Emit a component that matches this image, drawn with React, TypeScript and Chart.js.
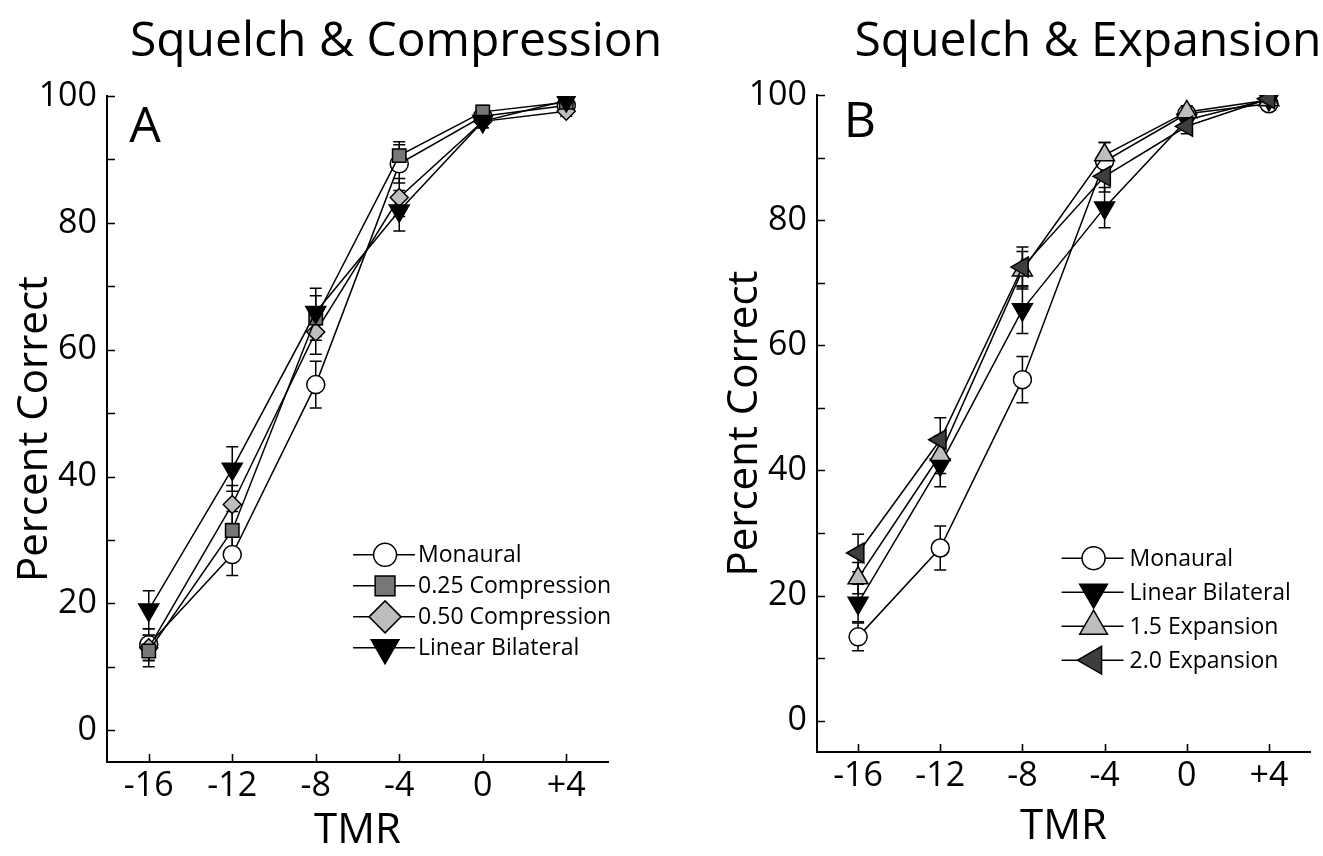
import React, { useEffect, useRef } from 'react';
import { Chart, registerables } from 'chart.js';
import { drawPoint } from 'chart.js/helpers';

Chart.register(...registerables);

// ---------- data ----------
const TMR = [-16, -12, -8, -4, 0, 4];
const TMR_LABELS = ['-16', '-12', '-8', '-4', '0', '+4'];
const Y_TICKS = [0, 10, 20, 30, 40, 50, 60, 70, 80, 90, 100];
const Y_TICK_LABELS = ['0', '', '20', '', '40', '', '60', '', '80', '', '100'];

// Panel A: Squelch & Compression
const A_MONAURAL = [13.5, 27.7, 54.5, 89.3, 96.8, 98.5];
const A_MONAURAL_ERR = [2.5, 3.3, 3.7, 3.0, 1.0, 0.5];
const A_COMP025 = [12.5, 31.5, 65.0, 90.6, 97.5, 99.0];
const A_COMP025_ERR = [2.5, 3.0, 3.5, 2.2, 1.0, 0.5];
const A_COMP050 = [13.0, 35.6, 62.8, 84.0, 96.0, 97.6];
const A_COMP050_ERR = [2.0, 3.0, 3.5, 3.0, 1.0, 0.8];
const A_LINEAR = [19.0, 41.2, 65.9, 81.9, 96.0, 99.3];
const A_LINEAR_ERR = [3.0, 3.5, 3.8, 3.2, 1.0, 0.5];

// Panel B: Squelch & Expansion
const B_MONAURAL = [13.4, 27.6, 54.5, 89.4, 97.0, 98.6];
const B_MONAURAL_ERR = [2.2, 3.5, 3.7, 3.0, 1.0, 0.5];
const B_LINEAR = [18.8, 40.9, 65.7, 82.0, 96.0, 99.3];
const B_LINEAR_ERR = [3.0, 3.5, 3.8, 3.2, 1.0, 0.5];
const B_EXP15 = [22.8, 42.5, 72.0, 90.4, 97.3, 99.2];
const B_EXP15_ERR = [2.5, 3.0, 3.0, 2.0, 1.0, 0.5];
const B_EXP20 = [26.8, 44.9, 72.5, 87.0, 95.0, 99.4];
const B_EXP20_ERR = [3.0, 3.5, 3.2, 2.5, 1.2, 0.5];

const FONT = '"Open Sans", "Noto Sans", sans-serif';

type Series = {
  label: string;
  values: number[];
  errors: number[];
  style: string;
  rotation: number;
  fill: string;
  radius: number;
  legendRadius: number;
  layer: number;
};

const MONAURAL_STYLE = { style: 'circle', rotation: 0, fill: '#ffffff', radius: 9, legendRadius: 11.5 };
const COMP025_STYLE = { style: 'rect', rotation: 0, fill: '#777777', radius: 9.5, legendRadius: 14 };
const COMP050_STYLE = { style: 'rectRot', rotation: 0, fill: '#bdbdbd', radius: 9, legendRadius: 16 };
const LINEAR_STYLE = { style: 'triangle', rotation: 180, fill: '#000000', radius: 11.5, legendRadius: 16 };
const EXP15_STYLE = { style: 'triangle', rotation: 0, fill: '#bdbdbd', radius: 11.5, legendRadius: 16 };
const EXP20_STYLE = { style: 'triangle', rotation: 270, fill: '#3d3d3d', radius: 11.5, legendRadius: 16 };

// layer: higher = drawn further back
const SERIES_A: Series[] = [
  { label: 'Monaural', values: A_MONAURAL, errors: A_MONAURAL_ERR, ...MONAURAL_STYLE, layer: 4 },
  { label: '0.25 Compression', values: A_COMP025, errors: A_COMP025_ERR, ...COMP025_STYLE, layer: 2 },
  { label: '0.50 Compression', values: A_COMP050, errors: A_COMP050_ERR, ...COMP050_STYLE, layer: 3 },
  { label: 'Linear Bilateral', values: A_LINEAR, errors: A_LINEAR_ERR, ...LINEAR_STYLE, layer: 1 },
];

const SERIES_B: Series[] = [
  { label: 'Monaural', values: B_MONAURAL, errors: B_MONAURAL_ERR, ...MONAURAL_STYLE, layer: 4 },
  { label: 'Linear Bilateral', values: B_LINEAR, errors: B_LINEAR_ERR, ...LINEAR_STYLE, layer: 3 },
  { label: '1.5 Expansion', values: B_EXP15, errors: B_EXP15_ERR, ...EXP15_STYLE, layer: 2 },
  { label: '2.0 Expansion', values: B_EXP20, errors: B_EXP20_ERR, ...EXP20_STYLE, layer: 1 },
];

type PanelLayout = {
  left: number;
  width: number;
  height: number;
  areaTop: number;
  padRight: number;
  yAxisWidth: number;
  xAxisHeight: number;
  yTitlePad: number;
  xTitlePad: number;
  title: string;
  titleX: number;
  titleBaseline: number;
  letter: string;
  letterX: number;
  letterBaseline: number;
  legendFx: number;
  legendFy: number;
  legendRow: number;
  legendTextDx: number;
};

const LAYOUT_A: PanelLayout = {
  left: 0, width: 660, height: 856, areaTop: 96, padRight: 52, yAxisWidth: 107, xAxisHeight: 94,
  yTitlePad: 10, xTitlePad: 0,
  title: 'Squelch & Compression', titleX: 396, titleBaseline: 56,
  letter: 'A', letterX: 145, letterBaseline: 142,
  legendFx: 0.555, legendFy: 0.689, legendRow: 31, legendTextDx: 33,
};

const LAYOUT_B: PanelLayout = {
  left: 660, width: 663, height: 856, areaTop: 95, padRight: 5, yAxisWidth: 157, xAxisHeight: 104,
  yTitlePad: 60, xTitlePad: 4,
  title: 'Squelch & Expansion', titleX: 428, titleBaseline: 56,
  letter: 'B', letterX: 200, letterBaseline: 137,
  legendFx: 0.561, legendFy: 0.705, legendRow: 34, legendTextDx: 36,
};

function makePlugins(series: Series[], L: PanelLayout) {
  return {
    id: 'panelDecor',
    beforeDatasetsDraw(chart: any) {
      const ctx = chart.ctx;
      const xs = chart.scales.x;
      const ys = chart.scales.y;
      const area = chart.chartArea;
      ctx.save();
      ctx.strokeStyle = '#000';
      ctx.lineWidth = 1.6;
      // inward ticks
      ctx.beginPath();
      Y_TICKS.forEach((v) => {
        const py = Math.round(ys.getPixelForValue(v)) + 0.5;
        ctx.moveTo(area.left, py);
        ctx.lineTo(area.left + 8, py);
      });
      TMR.forEach((v) => {
        const px = Math.round(xs.getPixelForValue(v)) + 0.5;
        ctx.moveTo(px, area.bottom);
        ctx.lineTo(px, area.bottom - 8);
      });
      ctx.stroke();
      // error bars
      ctx.lineWidth = 1.5;
      series.forEach((s) => {
        TMR.forEach((x, i) => {
          const px = xs.getPixelForValue(x);
          const top = ys.getPixelForValue(s.values[i] + s.errors[i]);
          const bot = ys.getPixelForValue(s.values[i] - s.errors[i]);
          ctx.beginPath();
          ctx.moveTo(px, top);
          ctx.lineTo(px, bot);
          ctx.moveTo(px - 6, top);
          ctx.lineTo(px + 6, top);
          ctx.moveTo(px - 6, bot);
          ctx.lineTo(px + 6, bot);
          ctx.stroke();
        });
      });
      ctx.restore();
    },
    afterDraw(chart: any) {
      const ctx = chart.ctx;
      const area = chart.chartArea;
      ctx.save();
      ctx.fillStyle = '#000';
      ctx.textAlign = 'center';
      ctx.textBaseline = 'alphabetic';
      ctx.font = `48px ${FONT}`;
      ctx.fillText(L.title, L.titleX, L.titleBaseline);
      ctx.font = `50px ${FONT}`;
      ctx.fillText(L.letter, L.letterX, L.letterBaseline);
      // legend
      const sx = area.left + L.legendFx * (area.right - area.left);
      const sy0 = area.top + L.legendFy * (area.bottom - area.top);
      ctx.font = `23px ${FONT}`;
      ctx.textAlign = 'left';
      ctx.textBaseline = 'middle';
      series.forEach((s, k) => {
        const y = sy0 + k * L.legendRow;
        ctx.strokeStyle = '#000';
        ctx.lineWidth = 1.5;
        ctx.beginPath();
        ctx.moveTo(sx - 32, y);
        ctx.lineTo(sx + 30, y);
        ctx.stroke();
        ctx.fillStyle = s.fill;
        ctx.strokeStyle = '#000';
        ctx.lineWidth = 1.5;
        drawPoint(ctx, { pointStyle: s.style as any, rotation: s.rotation, radius: s.legendRadius, borderWidth: 1.5 }, sx, y);
        ctx.fillStyle = '#000';
        ctx.fillText(s.label, sx + L.legendTextDx, y + 1);
      });
      ctx.restore();
    },
  };
}

function Panel({ series, L }: { series: Series[]; L: PanelLayout }) {
  const ref = useRef<HTMLCanvasElement | null>(null);
  useEffect(() => {
    if (!ref.current) return;
    const chart = new Chart(ref.current, {
      type: 'line',
      data: {
        datasets: series.map((s) => ({
          label: s.label,
          data: TMR.map((x, i) => ({ x, y: s.values[i] })),
          order: s.layer,
          borderColor: '#000',
          borderWidth: 1.5,
          fill: false,
          tension: 0,
          pointStyle: s.style as any,
          pointRotation: s.rotation,
          pointRadius: s.radius,
          pointBackgroundColor: s.fill,
          pointBorderColor: '#000',
          pointBorderWidth: 1.5,
        })),
      },
      options: {
        animation: false,
        responsive: false,
        maintainAspectRatio: false,
        events: [],
        layout: { padding: { left: 0, top: L.areaTop, right: L.padRight, bottom: 0 } },
        plugins: {
          legend: { display: false },
          tooltip: { enabled: false },
          title: { display: false },
        },
        scales: {
          x: {
            type: 'linear',
            min: -18,
            max: 6,
            afterBuildTicks: (s: any) => {
              s.ticks = TMR.map((v) => ({ value: v }));
            },
            afterFit: (s: any) => {
              s.height = L.xAxisHeight;
            },
            ticks: {
              autoSkip: false,
              maxRotation: 0,
              padding: 4,
              color: '#000',
              font: { family: FONT, size: 34 },
              callback: (v: any) => {
                const i = TMR.indexOf(Number(v));
                return i >= 0 ? TMR_LABELS[i] : '';
              },
            },
            grid: { display: false, drawTicks: false },
            border: { display: true, color: '#000', width: 2 },
            title: {
              display: true,
              text: 'TMR',
              color: '#000',
              font: { family: FONT, size: 42 },
              padding: { top: 0, bottom: L.xTitlePad },
            },
          },
          y: {
            type: 'linear',
            min: -5,
            max: 100,
            afterBuildTicks: (s: any) => {
              s.ticks = Y_TICKS.map((v) => ({ value: v }));
            },
            afterFit: (s: any) => {
              s.width = L.yAxisWidth;
            },
            ticks: {
              autoSkip: false,
              padding: 10,
              color: '#000',
              font: { family: FONT, size: 34 },
              callback: (v: any) => {
                const i = Y_TICKS.indexOf(Number(v));
                return i >= 0 ? Y_TICK_LABELS[i] : '';
              },
            },
            grid: { display: false, drawTicks: false },
            border: { display: true, color: '#000', width: 2 },
            title: {
              display: true,
              text: 'Percent Correct',
              color: '#000',
              font: { family: FONT, size: 42 },
              padding: { top: L.yTitlePad, bottom: 0 },
            },
          },
        },
      } as any,
      plugins: [makePlugins(series, L)],
    });
    return () => chart.destroy();
  }, [series, L]);
  return (
    <canvas
      ref={ref}
      width={L.width}
      height={L.height}
      style={{ position: 'absolute', left: L.left, top: 0, width: L.width, height: L.height }}
    />
  );
}

export default function App() {
  return (
    <div style={{ position: 'fixed', left: 0, top: 0, width: 1323, height: 856, background: '#fff', overflow: 'hidden' }}>
      <Panel series={SERIES_A} L={LAYOUT_A} />
      <Panel series={SERIES_B} L={LAYOUT_B} />
    </div>
  );
}
